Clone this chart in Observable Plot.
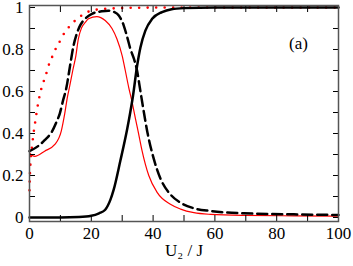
<!DOCTYPE html>
<html>
<head>
<meta charset="utf-8">
<script src="https://cdn.jsdelivr.net/npm/d3@7"></script>
<script src="https://cdn.jsdelivr.net/npm/@observablehq/plot@0.6"></script>
<style>
  html, body { margin: 0; padding: 0; background: white; }
</style>
</head>
<body>
<div id="chart"></div>
<script>
// black solid curve
const solidU = [0, 10, 16, 20, 22.5, 24.5, 26.2, 27.2, 29.4, 31.6, 32.6, 33.5, 34.8, 35.9, 37.5, 39.7, 42.9, 46, 50, 60, 100];
const solidV = [0, 0, 0.002, 0.008, 0.02, 0.037, 0.085, 0.13, 0.27, 0.42, 0.5, 0.58, 0.72, 0.81, 0.89, 0.946, 0.978, 0.992, 0.997, 1, 1];

// black dashed curve
const dashedU = [0, 2.8, 4.9, 7.1, 8.7, 9.8, 10.9, 11.9, 13.1, 14.2, 15.3, 16.4, 18, 20.2, 23.4, 25.5, 27.5, 28.9, 30.5, 31.6, 32.7, 33.7, 34.8, 35.8, 36.8, 38.1, 40.2, 42.4, 45.6, 48.9, 53.2, 58.6, 69.4, 85.6, 100];
const dashedV = [0.316, 0.34, 0.368, 0.405, 0.454, 0.495, 0.56, 0.615, 0.72, 0.815, 0.875, 0.915, 0.946, 0.97, 0.982, 0.985, 0.978, 0.962, 0.914, 0.86, 0.80, 0.76, 0.70, 0.61, 0.52, 0.41, 0.28, 0.185, 0.11, 0.07, 0.044, 0.031, 0.02, 0.015, 0.012];

// red solid curve
const redU = [0, 1.7, 4.9, 8.2, 10.3, 11.4, 12.3, 13.0, 14.0, 15.0, 15.8, 16.9, 18.1, 19.1, 21.8, 24.5, 26.7, 28.3, 30.0, 31.0, 32.1, 33.2, 34.3, 35.3, 36.4, 38.6, 41.3, 45.6, 48.9, 53.2, 58.6, 69.4, 85.6, 100];
const redV = [0.307, 0.291, 0.316, 0.348, 0.413, 0.495, 0.576, 0.625, 0.70, 0.77, 0.85, 0.905, 0.93, 0.946, 0.957, 0.938, 0.90, 0.85, 0.77, 0.70, 0.62, 0.55, 0.47, 0.40, 0.32, 0.20, 0.12, 0.063, 0.04, 0.023, 0.015, 0.01, 0.008, 0.007];

// red dotted curve
const dotU = [0, 0.1, 0.25, 0.4, 0.6, 0.9, 1.3, 1.8, 2.4, 3.0, 3.5, 4.4, 5.4, 6.1, 7.2, 8.0, 9.2, 10.5, 11.9, 13.5, 15.5, 17.8, 19.9, 21.8, 26, 35, 50, 100];
const dotV = [0.13, 0.19, 0.24, 0.28, 0.31, 0.35, 0.40, 0.45, 0.51, 0.56, 0.595, 0.64, 0.684, 0.72, 0.76, 0.79, 0.82, 0.86, 0.89, 0.92, 0.946, 0.972, 0.984, 0.99, 0.995, 0.999, 1, 1];

const xMajorTicks = [0, 20, 40, 60, 80, 100];
const xTickLabels = ["0", "20", "40", "60", "80", "100"];
const xMinorTicks = [0, 10, 20, 30, 40, 50, 60, 70, 80, 90, 100];
const yMajorTicks = [0, 0.2, 0.4, 0.6, 0.8, 1];
const yTickLabels = ["0", "0.2", "0.4", "0.6", "0.8", "1"];
const yMinorTicks = [0, 0.1, 0.2, 0.3, 0.4, 0.5, 0.6, 0.7, 0.8, 0.9, 1];
const xLabel = "U₂ / J";
const panelLabel = "(a)";

const toRows = (U, V) => U.map((u, i) => ({u, v: V[i]}));
const solid = toRows(solidU, solidV);
const dashed = toRows(dashedU, dashedV);
const red = toRows(redU, redV);
const dotted = toRows(dotU, dotV);

const xFmt = d => xTickLabels[xMajorTicks.indexOf(d)];
const yFmt = d => yTickLabels[yMajorTicks.indexOf(d)];

const chart = Plot.plot({
  width: 353,
  height: 266,
  marginLeft: 29,
  marginRight: 15,
  marginTop: 5,
  marginBottom: 45,
  style: "font-family: 'Liberation Serif', 'Times New Roman', serif; font-size: 17px; background: white; color: black;",
  x: {domain: [0, 100]},
  y: {domain: [-0.019, 1.0095]},
  marks: [
    Plot.line(dotted, {x: "u", y: "v", stroke: "#ff0000", strokeWidth: 2.6, strokeDasharray: "0,8.5", strokeLinecap: "round", curve: "monotone-x"}),
    Plot.line(red, {x: "u", y: "v", stroke: "#ff0000", strokeWidth: 1.2, curve: "monotone-x"}),
    Plot.line(dashed, {x: "u", y: "v", stroke: "black", strokeWidth: 2.5, strokeDasharray: "10,5", curve: "monotone-x"}),
    Plot.line(solid, {x: "u", y: "v", stroke: "black", strokeWidth: 2.5, curve: "monotone-x"}),
    Plot.axisX(xMinorTicks, {anchor: "bottom", tickSize: -6, tickFormat: () => "", label: null}),
    Plot.axisX(xMinorTicks, {anchor: "top", tickSize: -6, tickFormat: () => "", label: null}),
    Plot.axisY(yMinorTicks, {anchor: "left", tickSize: -6, tickFormat: () => "", label: null}),
    Plot.axisY(yMinorTicks, {anchor: "right", tickSize: -6, tickFormat: () => "", label: null}),
    Plot.axisX(xMajorTicks, {anchor: "bottom", tickSize: 0, tickPadding: 5, tickFormat: xFmt, label: null}),
    Plot.axisY(yMajorTicks, {anchor: "left", tickSize: 0, tickPadding: 6, tickFormat: yFmt, label: null}),
    Plot.frame({stroke: "#555", strokeWidth: 1.5}),
    Plot.text([panelLabel], {frameAnchor: "top-right", dx: -40, dy: 38, textAnchor: "middle", lineAnchor: "middle"}),
    Plot.text([xLabel], {frameAnchor: "bottom", dy: 29, textAnchor: "middle", lineAnchor: "middle"})
  ]
});
document.getElementById("chart").appendChild(chart);
</script>
</body>
</html>
